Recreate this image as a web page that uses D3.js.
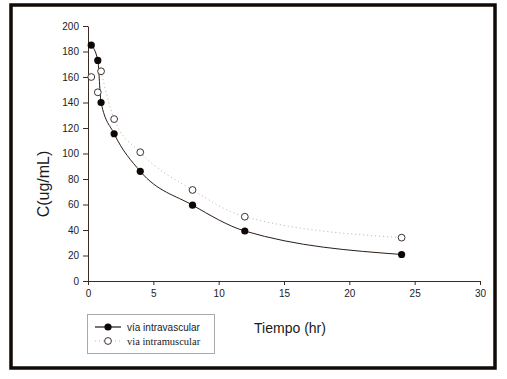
<!DOCTYPE html>
<html><head><meta charset="utf-8">
<script src="https://cdn.jsdelivr.net/npm/d3@7"></script>
<style>body{margin:0;background:#fff}svg{display:block}</style>
</head><body>
<script>
const times = [0.25, 0.75, 1, 2, 4, 8, 12, 24];
const intravascular = [185, 173, 140, 115.5, 86, 59.5, 39.2, 20.8];
const intramuscular = [160, 148, 164.5, 127, 101, 71.4, 50.4, 34];
const xTicks = [0, 5, 10, 15, 20, 25, 30];
const yTicks = [0, 20, 40, 60, 80, 100, 120, 140, 160, 180, 200];
const legendLabels = ["vía intravascular", "via intramuscular"];

const W = 507, H = 379;
const svg = d3.select("body").append("svg").attr("width", W).attr("height", H);
const axisCol = "#3b2b22";

// outer frame
svg.append("rect").attr("x", 11).attr("y", 5).attr("width", 484).attr("height", 363)
  .attr("fill", "none").attr("stroke", "#120a06").attr("stroke-width", 3.5);

const x = d3.scaleLinear().domain([0, 30]).range([88, 480]);
const y = d3.scaleLinear().domain([0, 200]).range([281, 26]);

const gx = svg.append("g").attr("transform", "translate(0,281)")
  .call(d3.axisBottom(x).tickValues(xTicks).tickSize(4).tickPadding(5).tickSizeOuter(0));
const gy = svg.append("g").attr("transform", "translate(88,0)")
  .call(d3.axisLeft(y).tickValues(yTicks).tickSize(5).tickPadding(4).tickSizeOuter(0));
[gx, gy].forEach(g => {
  g.select(".domain").attr("stroke", axisCol);
  g.selectAll(".tick line").attr("stroke", axisCol);
  g.selectAll("text").attr("fill", "#222").attr("font-family", "Liberation Sans, Arial, sans-serif").attr("font-size", 10);
});

// lines
const line = d3.line().x(d => x(d[0])).y(d => y(d[1])).curve(d3.curveMonotoneX);
const ivPts = times.map((t, i) => [t, intravascular[i]]);
const imPts = times.map((t, i) => [t, intramuscular[i]]);
svg.append("path").attr("d", line(ivPts)).attr("fill", "none").attr("stroke", "#2a1d16").attr("stroke-width", 1);
svg.append("path").attr("d", line(imPts.slice(2))).attr("fill", "none")
  .attr("stroke", "#b8b0aa").attr("stroke-width", 1).attr("stroke-dasharray", "1,3");

// markers
svg.selectAll("circle.iv").data(ivPts).enter().append("circle")
  .attr("cx", d => x(d[0])).attr("cy", d => y(d[1])).attr("r", 3.6)
  .attr("fill", "#0d0705");
svg.selectAll("circle.im").data(imPts).enter().append("circle")
  .attr("cx", d => x(d[0])).attr("cy", d => y(d[1])).attr("r", 3.4)
  .attr("fill", "#fff").attr("stroke", "#2a1d16").attr("stroke-width", 0.9);

// axis titles
svg.append("text").attr("x", 290).attr("y", 333).attr("text-anchor", "middle")
  .attr("font-family", "Liberation Sans, Arial, sans-serif").attr("font-size", 14).attr("fill", "#1a1a1a")
  .text("Tiempo (hr)");
svg.append("text").attr("transform", "translate(49,184) rotate(-90)").attr("text-anchor", "middle")
  .attr("font-family", "Liberation Sans, Arial, sans-serif").attr("font-size", 16).attr("fill", "#1a1a1a")
  .text("C(ug/mL)");

// legend
const lg = svg.append("g");
lg.append("rect").attr("x", 87.5).attr("y", 314.5).attr("width", 127).attr("height", 39)
  .attr("fill", "#fff").attr("stroke", "#aaa").attr("stroke-width", 1);
lg.append("line").attr("x1", 95).attr("x2", 121).attr("y1", 327).attr("y2", 327).attr("stroke", "#1a1a1a").attr("stroke-width", 1.2);
lg.append("circle").attr("cx", 108).attr("cy", 327).attr("r", 3.6).attr("fill", "#0d0705");
lg.append("line").attr("x1", 95).attr("x2", 121).attr("y1", 341).attr("y2", 341).attr("stroke", "#bbb").attr("stroke-width", 1).attr("stroke-dasharray", "1,3");
lg.append("circle").attr("cx", 108).attr("cy", 341).attr("r", 3.4).attr("fill", "#fff").attr("stroke", "#2a1d16").attr("stroke-width", 0.9);
lg.append("text").attr("x", 127).attr("y", 330.5).attr("font-family", "Liberation Sans, Arial, sans-serif").attr("font-size", 10).attr("fill", "#222").text(legendLabels[0]);
lg.append("text").attr("x", 127).attr("y", 344.5).attr("font-family", "Liberation Serif, Times New Roman, serif").attr("font-size", 10.5).attr("fill", "#222").text(legendLabels[1]);
</script>
</body></html>
